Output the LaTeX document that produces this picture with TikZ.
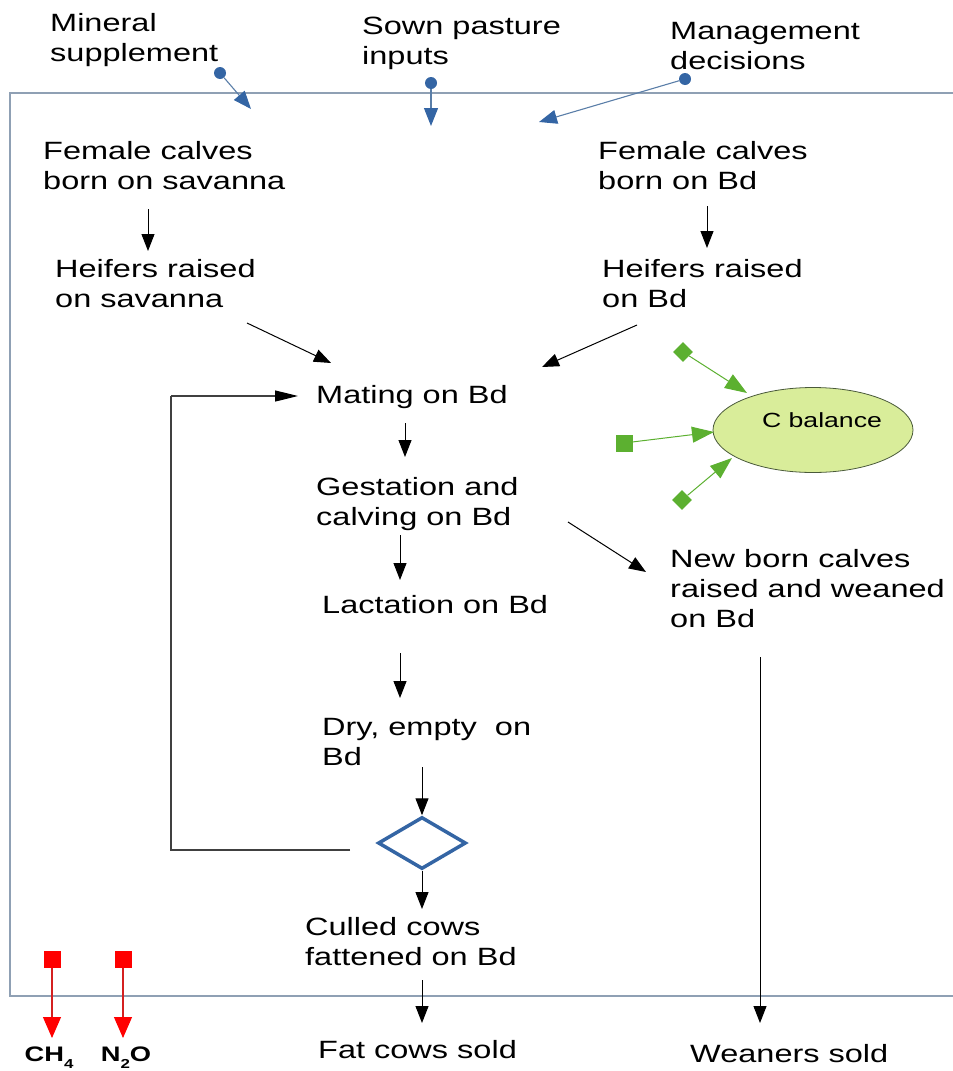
\documentclass[tikz,border=0pt]{standalone}
\usepackage{fontspec}
\setmainfont{Liberation Sans}[FakeStretch=1.3]
\newfontfamily\chemfont{Liberation Sans}[FakeStretch=1.3]
\usetikzlibrary{arrows.meta,shapes.geometric}
\definecolor{framec}{HTML}{8FA0B4}
\definecolor{bluec}{HTML}{3465A4}
\definecolor{blueline}{HTML}{5A7EA8}
\definecolor{greenc}{HTML}{5CB030}
\definecolor{ellfill}{HTML}{D9ED9A}
\definecolor{ellline}{HTML}{4A5A3A}
\definecolor{redc}{HTML}{FF0000}
\definecolor{redline}{HTML}{D42020}
\definecolor{loopc}{HTML}{404040}
\begin{document}
\begin{tikzpicture}[x=1pt,y=-1pt,
  lbl/.style={anchor=north west, inner sep=0pt, align=left, font=\fontsize{25}{30}\selectfont},
  blk/.style={draw=black, line width=1pt, -{Triangle[length=17pt,width=13pt]}},
  loopline/.style={draw=loopc, line width=1.2pt},
  loopend/.style={draw=loopc, line width=1.2pt, -{Triangle[length=23pt,width=11pt,color=black]}},
  indot/.style={circle, fill=bluec, inner sep=0pt, minimum size=12pt},
  inarr/.style={draw=blueline, line width=1.1pt, -{Triangle[length=18pt,width=14pt,color=bluec]}},
  gsq/.style={fill=greenc, inner sep=0pt, minimum size=15pt},
  garr/.style={draw=greenc, line width=1pt, -{Triangle[length=22pt,width=16pt,color=greenc]}},
  rsq/.style={fill=redc, inner sep=0pt, minimum size=17pt},
  rarr/.style={draw=redline, line width=1.1pt, -{Triangle[length=21pt,width=18pt,color=redc]}},
  chem/.style={inner sep=0pt, anchor=base, font=\chemfont\bfseries\fontsize{21}{24}\selectfont},
  framel/.style={draw=framec, line width=2pt}
]
\useasboundingbox (0,0) rectangle (953,1071);

% frame
\draw[framel] (953,93) -- (10,93) -- (10,996) -- (953,996);

% texts
\node[lbl] (mineral) at (50,10) {\strut Mineral\\supplement};
\node[lbl] (sown) at (362,13) {\strut Sown pasture\\inputs};
\node[lbl] (mgmt) at (670,18) {\strut Management\\decisions};
\node[lbl] (fcs) at (43,138) {\strut Female calves\\born on savanna};
\node[lbl] (fcb) at (598,138) {\strut Female calves\\born on Bd};
\node[lbl] (hs) at (55,256) {\strut Heifers raised\\on savanna};
\node[lbl] (hb) at (602,256) {\strut Heifers raised\\on Bd};
\node[lbl] (mating) at (316,382) {\strut Mating on Bd};
\node[lbl] (gest) at (316,474) {\strut Gestation and\\calving on Bd};
\node[lbl] (lact) at (322,592) {\strut Lactation on Bd};
\node[lbl] (dry) at (322,714) {\strut Dry, empty\ \ on\\Bd};
\node[lbl] (culled) at (305,914) {\strut Culled cows\\fattened on Bd};
\node[lbl] (newborn) at (670,546) {\strut New born calves\\raised and weaned\\on Bd};
\node[lbl] (fat) at (318,1037) {\strut Fat cows sold};
\node[lbl] (weaners) at (690,1041) {\strut Weaners sold};

% input arrows
\node[indot] (md) at (220,73) {};
\node[indot] (sd) at (431,83) {};
\node[indot] (gd) at (685,79) {};
\coordinate (mt) at (251,109);
\coordinate (st) at (431,126);
\coordinate (gt) at (539,122);
\draw[inarr] (md) -- (mt);
\draw[inarr] (sd) -- (st);
\draw[inarr] (gd) -- (gt);

% black flow arrows
\coordinate (a1s) at (148,209); \coordinate (a1e) at (148,251);
\coordinate (a2s) at (707,206); \coordinate (a2e) at (707,248);
\coordinate (a3s) at (247,323); \coordinate (a3e) at (331,363);
\coordinate (a4s) at (637,325); \coordinate (a4e) at (542,367);
\coordinate (a5s) at (405,423); \coordinate (a5e) at (405,457);
\coordinate (a6s) at (400,535); \coordinate (a6e) at (400,580);
\coordinate (a7s) at (400,653); \coordinate (a7e) at (400,698);
\coordinate (a9s) at (568,522); \coordinate (a9e) at (646,572);
\coordinate (a10s) at (760,657); \coordinate (a10e) at (760,1023);
\coordinate (a11s) at (422,980); \coordinate (a11e) at (422,1023);
\draw[blk] (a1s) -- (a1e);
\draw[blk] (a2s) -- (a2e);
\draw[blk] (a3s) -- (a3e);
\draw[blk] (a4s) -- (a4e);
\draw[blk] (a5s) -- (a5e);
\draw[blk] (a6s) -- (a6e);
\draw[blk] (a7s) -- (a7e);
\draw[blk] (a9s) -- (a9e);
\draw[blk] (a10s) -- (a10e);
\draw[blk] (a11s) -- (a11e);

% decision diamond
\node[diamond, draw=bluec, line width=3.5pt, minimum width=88pt, minimum height=52pt, inner sep=0pt] (dia) at (422,843) {};
\coordinate (a8s) at (422,767);
\draw[blk] (a8s) -- (dia.north);
\coordinate (a12e) at (422,909);
\draw[blk] (dia.south) -- (a12e);

% loop back to mating
\coordinate (l1) at (350,850);
\coordinate (l2) at (171,396);
\coordinate (l3) at (298,396);
\draw[loopline] (l1) -| (l2);
\draw[loopend] (l2) -- (l3);

% C balance
\node[ellipse, draw=ellline, line width=0.8pt, fill=ellfill, minimum width=200pt, minimum height=85pt, inner sep=0pt] (cb) at (813,430) {};
\node[inner sep=0pt, font=\fontsize{20.5}{24}\selectfont] (cbt) at (822,420) {C balance};
\node[gsq, rotate=45, minimum size=14pt] (g1) at (683,352) {};
\node[gsq, minimum size=17pt] (g2) at (624,443) {};
\node[gsq, rotate=45, minimum size=14pt] (g3) at (682,500) {};
\coordinate (g1t) at (747,393);
\coordinate (g2t) at (714,432);
\coordinate (g3t) at (732,458);
\draw[garr] (g1) -- (g1t);
\draw[garr] (g2) -- (g2t);
\draw[garr] (g3) -- (g3t);

% emissions
\node[rsq] (r1) at (52,959) {};
\node[rsq] (r2) at (123,959) {};
\coordinate (r1t) at (52,1038);
\coordinate (r2t) at (123,1038);
\draw[rarr] (r1) -- (r1t);
\draw[rarr] (r2) -- (r2t);
\node[chem] (ch4) at (49,1061) {CH\raisebox{-7pt}{\fontsize{13}{13}\selectfont 4}};
\node[chem] (n2o) at (126,1061) {N\raisebox{-7pt}{\fontsize{13}{13}\selectfont 2}O};
\end{tikzpicture}
\end{document}
